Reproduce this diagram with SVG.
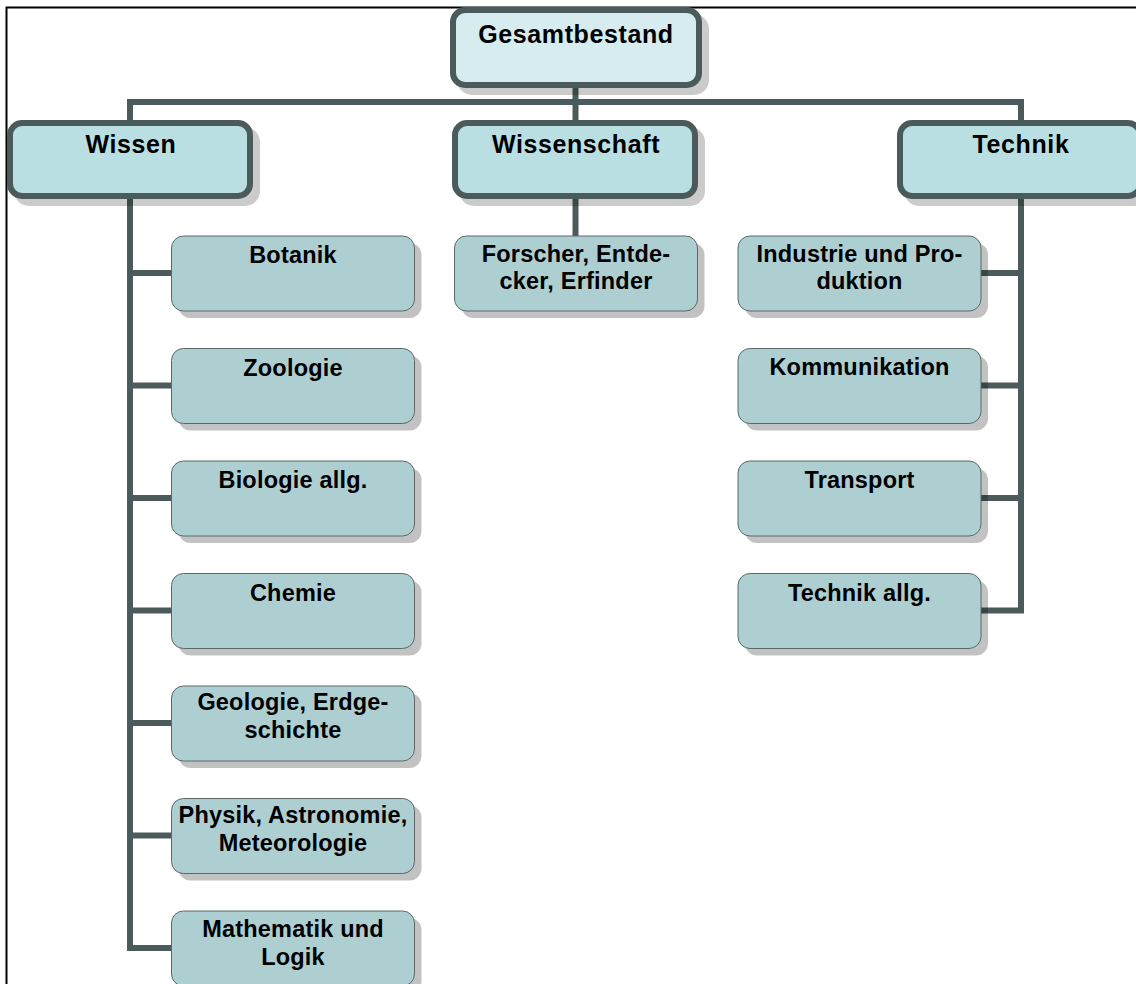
<svg xmlns="http://www.w3.org/2000/svg" width="1136" height="984" viewBox="0 0 1136 984">
<style>
  .frame{fill:none;stroke:#000;stroke-width:2}
  .conn{fill:none;stroke:#4b5b5b;stroke-width:6;stroke-linejoin:miter;stroke-linecap:butt}
  .sh1{fill:#000;stroke:#000;stroke-width:6;opacity:0.2}
  .sh2{fill:#000;opacity:0.24}
  .top{fill:#d6ecef;stroke:#4b5b5b;stroke-width:6}
  .l1{fill:#b9dfe2;stroke:#4b5b5b;stroke-width:6}
  .l2{fill:#aecfd2;stroke:#5a6868;stroke-width:1}
  .t1{font-family:"Liberation Sans",Arial,sans-serif;font-weight:bold;font-size:25px;letter-spacing:0.6px;fill:#000;text-anchor:middle}
  .t2{font-family:"Liberation Sans",Arial,sans-serif;font-weight:bold;font-size:23.5px;letter-spacing:0.2px;fill:#000;text-anchor:middle}
</style>
<rect width="1136" height="984" fill="#fff"/>
<rect class="frame" x="6.5" y="7.5" width="1200" height="1200"/>
<g id="connectors">
  <path class="conn" d="M575.5 88 V102 M130 120 V102 H1021 V120 M575.5 102 V120"/>
  <path class="conn" d="M130 199 V948 H171"/>
  <path class="conn" d="M130 273 H171 M130 385.5 H171 M130 498 H171 M130 610.5 H171 M130 723 H171 M130 835.5 H171"/>
  <path class="conn" d="M575.5 199 V236"/>
  <path class="conn" d="M1021 199 V610.5 H980 M1021 273 H980 M1021 385.5 H980 M1021 498 H980"/>
</g>
<g id="n-gesamtbestand">
  <rect class="sh1" x="460" y="17" width="246" height="75" rx="12"/>
  <rect class="top" x="453" y="10" width="246" height="75" rx="12"/>
  <text class="t1" x="576" y="43">Gesamtbestand</text>
</g>
<g id="n-wissen">
  <rect class="sh1" x="17" y="130" width="240" height="73" rx="12"/>
  <rect class="l1" x="10" y="123" width="240" height="73" rx="12"/>
  <text class="t1" x="131" y="153">Wissen</text>
</g>
<g id="n-wissenschaft">
  <rect class="sh1" x="462" y="130" width="240" height="73" rx="12"/>
  <rect class="l1" x="455" y="123" width="240" height="73" rx="12"/>
  <text class="t1" x="576" y="153">Wissenschaft</text>
</g>
<g id="n-technik">
  <rect class="sh1" x="907" y="130" width="240" height="73" rx="12"/>
  <rect class="l1" x="900" y="123" width="240" height="73" rx="12"/>
  <text class="t1" x="1021" y="153">Technik</text>
</g>
<g id="n-botanik">
  <rect class="sh2" x="178.5" y="243" width="243" height="75" rx="12"/>
  <rect class="l2" x="171.5" y="236" width="243" height="75" rx="12"/>
  <text class="t2" x="293" y="263">Botanik</text>
</g>
<g id="n-zoologie">
  <rect class="sh2" x="178.5" y="355.5" width="243" height="75" rx="12"/>
  <rect class="l2" x="171.5" y="348.5" width="243" height="75" rx="12"/>
  <text class="t2" x="293" y="375.5">Zoologie</text>
</g>
<g id="n-biologie">
  <rect class="sh2" x="178.5" y="468" width="243" height="75" rx="12"/>
  <rect class="l2" x="171.5" y="461" width="243" height="75" rx="12"/>
  <text class="t2" x="293" y="488">Biologie allg.</text>
</g>
<g id="n-chemie">
  <rect class="sh2" x="178.5" y="580.5" width="243" height="75" rx="12"/>
  <rect class="l2" x="171.5" y="573.5" width="243" height="75" rx="12"/>
  <text class="t2" x="293" y="600.5">Chemie</text>
</g>
<g id="n-geologie">
  <rect class="sh2" x="178.5" y="693" width="243" height="75" rx="12"/>
  <rect class="l2" x="171.5" y="686" width="243" height="75" rx="12"/>
  <text class="t2" x="293" y="710">Geologie, Erdge-</text>
  <text class="t2" x="293" y="738">schichte</text>
</g>
<g id="n-physik">
  <rect class="sh2" x="178.5" y="805.5" width="243" height="75" rx="12"/>
  <rect class="l2" x="171.5" y="798.5" width="243" height="75" rx="12"/>
  <text class="t2" x="293" y="822.5">Physik, Astronomie,</text>
  <text class="t2" x="293" y="851">Meteorologie</text>
</g>
<g id="n-mathematik">
  <rect class="sh2" x="178.5" y="918" width="243" height="75" rx="12"/>
  <rect class="l2" x="171.5" y="911" width="243" height="75" rx="12"/>
  <text class="t2" x="293" y="937">Mathematik und</text>
  <text class="t2" x="293" y="965">Logik</text>
</g>
<g id="n-forscher">
  <rect class="sh2" x="461.5" y="243" width="243" height="75" rx="12"/>
  <rect class="l2" x="454.5" y="236" width="243" height="75" rx="12"/>
  <text class="t2" x="576" y="262">Forscher, Entde-</text>
  <text class="t2" x="576" y="288.5">cker, Erfinder</text>
</g>
<g id="n-industrie">
  <rect class="sh2" x="745" y="243" width="243" height="75" rx="12"/>
  <rect class="l2" x="738" y="236" width="243" height="75" rx="12"/>
  <text class="t2" x="859.5" y="262">Industrie und Pro-</text>
  <text class="t2" x="859.5" y="289">duktion</text>
</g>
<g id="n-kommunikation">
  <rect class="sh2" x="745" y="355.5" width="243" height="75" rx="12"/>
  <rect class="l2" x="738" y="348.5" width="243" height="75" rx="12"/>
  <text class="t2" x="859.5" y="375">Kommunikation</text>
</g>
<g id="n-transport">
  <rect class="sh2" x="745" y="468" width="243" height="75" rx="12"/>
  <rect class="l2" x="738" y="461" width="243" height="75" rx="12"/>
  <text class="t2" x="859.5" y="488">Transport</text>
</g>
<g id="n-technik-allg">
  <rect class="sh2" x="745" y="580.5" width="243" height="75" rx="12"/>
  <rect class="l2" x="738" y="573.5" width="243" height="75" rx="12"/>
  <text class="t2" x="859.5" y="601">Technik allg.</text>
</g>
</svg>
